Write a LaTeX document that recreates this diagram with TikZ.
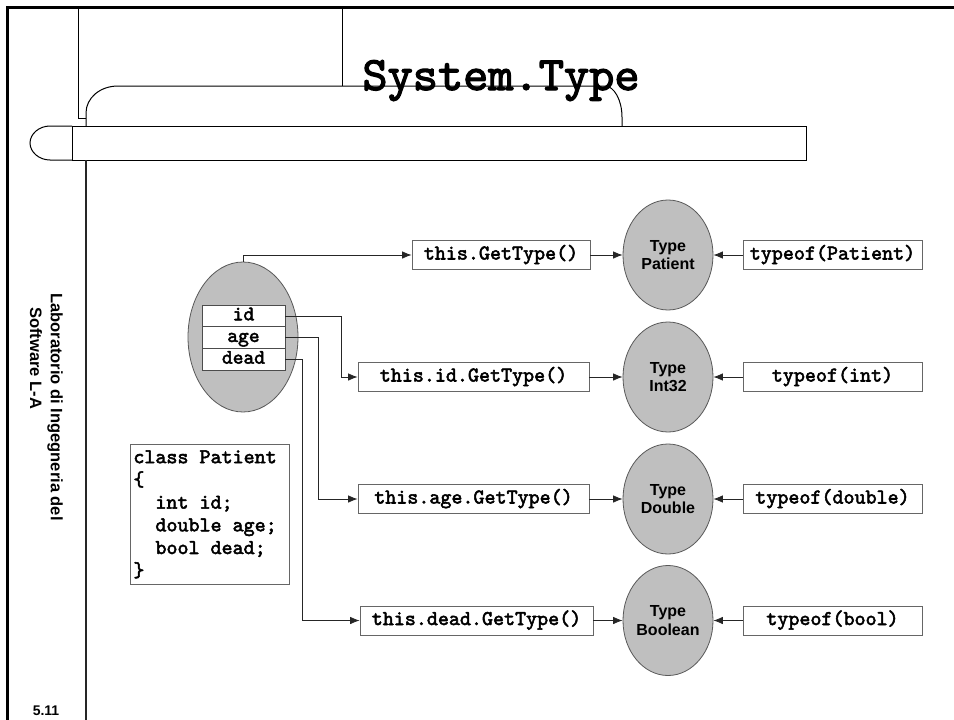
\documentclass[tikz,border=0pt]{standalone}
\usepackage{fontspec}
\setmainfont{Liberation Sans}
\newfontfamily\codefont{lmmono10-regular.otf}[FakeBold=2.5]
\usetikzlibrary{arrows.meta,shapes.geometric}
\newcommand\codesp{\hspace*{0.525em}}
\begin{document}
\begin{tikzpicture}[x=1pt,y=-1pt,
  frameline/.style={line width=1pt,black},
  codebox/.style={draw=black!60,line width=0.8pt,fill=white,inner sep=0pt,
    font=\codefont\fontsize{21}{22}\selectfont,minimum height=29pt,
    text height=13pt,text depth=4pt},
  fieldbox/.style={draw=black!70,line width=0.8pt,fill=white,inner sep=0pt,
    font=\codefont\fontsize{20.5}{22}\selectfont,minimum width=83pt,minimum height=21.7pt,
    text height=12.5pt,text depth=4pt},
  typeell/.style={ellipse,draw=black!65,line width=0.8pt,fill=black!25,
    minimum width=90pt,minimum height=110pt,inner sep=0pt,align=center,
    font=\bfseries\fontsize{16}{18.5}\selectfont},
  conn/.style={line width=0.8pt,black!85,-{Latex[length=9.5pt,width=7.5pt]}},
  sidetext/.style={rotate=-90,inner sep=0pt,font=\bfseries\fontsize{16.5}{18}\selectfont},
]
\useasboundingbox (0,0) rectangle (954,720);
\fill[white] (0,0) rectangle (954,720);

% frame
\draw[line width=3pt] (7,720) -- (7,7) -- (954,7);
\draw[frameline] (78,7) -- (78,118) -- (86,118);
\draw[frameline] (342,7) -- (342,86);
\draw[frameline] (86,126) -- (86,113) .. controls (86,98) and (100,86) .. (118,86)
  -- (605,86) .. controls (614,86) and (622,100) .. (622,117) -- (622,126);
\draw[frameline] (72,126) rectangle (806,160);
\draw[frameline] (72,126) -- (50,126) .. controls (39,126) and (30,134) .. (30,143)
  .. controls (30,152) and (39,160) .. (50,160) -- (72,160);
\draw[line width=1.3pt,black!85] (86,160) -- (86,720);

% title
\node[font=\codefont\fontsize{48}{48}\selectfont,anchor=base,inner sep=0pt] (title) at (501,90) {System.Type};

% sidebar
\node[sidetext] (lab1) at (55,407) {Laboratorio di Ingegneria del};
\node[sidetext,anchor=west] (lab2) at (36,307) {Software L-A};
\node[font=\bfseries\fontsize{14}{14}\selectfont,anchor=base,inner sep=0pt] (pg) at (46,715) {5.11};

% object
\node[ellipse,draw=black!65,line width=0.8pt,fill=black!25,minimum width=110pt,minimum height=150pt,inner sep=0pt] (obj) at (243,337) {};
\node[fieldbox] (fid) at (243.5,316) {id};
\node[fieldbox] (fage) at (243.5,337.7) {age};
\node[fieldbox] (fdead) at (243.5,359.4) {dead};

% class box
\node[draw=black!60,line width=0.8pt,fill=white,anchor=north west,inner sep=3pt,
  text width=153pt,minimum height=140pt,align=left,
  font=\codefont\fontsize{21}{22.7}\selectfont] (cls) at (130,444)
  {class\codesp Patient\\\{\\\codesp\codesp int\codesp id;\\\codesp\codesp double\codesp age;\\\codesp\codesp bool\codesp dead;\\\}};

% GetType boxes
\node[codebox,minimum width=178pt] (gt) at (501,255) {this.GetType()};
\node[codebox,minimum width=231pt] (gid) at (473.5,377) {this.id.GetType()};
\node[codebox,minimum width=231pt] (gage) at (473.5,499) {this.age.GetType()};
\node[codebox,minimum width=233pt] (gdead) at (476.5,620.5) {this.dead.GetType()};

% type ellipses
\node[typeell] (tpat) at (668,255) {Type\\Patient};
\node[typeell] (tint) at (668,377) {Type\\Int32};
\node[typeell] (tdbl) at (668,499) {Type\\Double};
\node[typeell] (tbool) at (668,620.5) {Type\\Boolean};

% typeof boxes
\node[codebox,minimum width=179pt] (opat) at (832.5,255) {typeof(Patient)};
\node[codebox,minimum width=179pt] (oint) at (832.5,377) {typeof(int)};
\node[codebox,minimum width=179pt] (odbl) at (832.5,499) {typeof(double)};
\node[codebox,minimum width=179pt] (obool) at (832.5,620.5) {typeof(bool)};

% connectors
\draw[conn] (obj.north) |- (gt.west);
\draw[conn] (fid.east) -- ++(56,0) |- (gid.west);
\draw[conn] (fage.east) -- ++(33,0) |- (gage.west);
\draw[conn] (fdead.east) -- ++(17,0) |- (gdead.west);

\draw[conn] (gt.east) -- (tpat.west);
\draw[conn] (gid.east) -- (tint.west);
\draw[conn] (gage.east) -- (tdbl.west);
\draw[conn] (gdead.east) -- (tbool.west);

\draw[conn] (opat.west) -- (tpat.east);
\draw[conn] (oint.west) -- (tint.east);
\draw[conn] (odbl.west) -- (tdbl.east);
\draw[conn] (obool.west) -- (tbool.east);
\end{tikzpicture}
\end{document}
